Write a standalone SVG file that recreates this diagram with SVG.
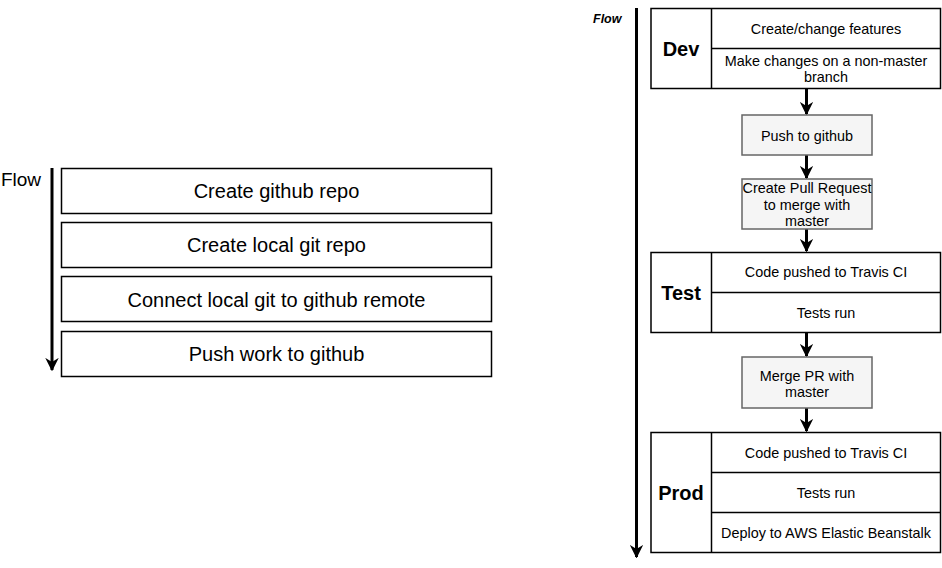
<svg xmlns="http://www.w3.org/2000/svg" width="942" height="568" viewBox="0 0 942 568">
<defs>
<style>
.box{fill:#fff;stroke:#000;stroke-width:1.5}
.gbox{fill:#f5f5f5;stroke:#666;stroke-width:1.5}
.t{font-family:"Liberation Sans",Arial,sans-serif;fill:#000;text-anchor:middle}
.big{font-size:20px}
.sm{font-size:14.4px}
.hd{font-size:20px;font-weight:bold}
.ln{stroke:#000;stroke-width:3;fill:none}
</style>
<marker id="ah" viewBox="0 0 10 10" refX="9" refY="5" markerWidth="4.5" markerHeight="4.5" orient="auto" markerUnits="strokeWidth">
<path d="M0,0 L10,5 L0,10 L3,5 Z" fill="#000"/>
</marker>
</defs>
<rect width="942" height="568" fill="#fff"/>
<g id="connectors">
<line class="ln" x1="52" y1="168" x2="52" y2="370" marker-end="url(#ah)"/>
<line class="ln" x1="636.5" y1="8" x2="636.5" y2="557" marker-end="url(#ah)"/>
<line class="ln" x1="806.5" y1="89" x2="806.5" y2="114" marker-end="url(#ah)"/>
<line class="ln" x1="806.5" y1="155" x2="806.5" y2="178" marker-end="url(#ah)"/>
<line class="ln" x1="806.5" y1="229" x2="806.5" y2="251" marker-end="url(#ah)"/>
<line class="ln" x1="806.5" y1="332" x2="806.5" y2="356" marker-end="url(#ah)"/>
<line class="ln" x1="806.5" y1="408" x2="806.5" y2="431" marker-end="url(#ah)"/>
</g>
<text class="t" x="21" y="186" style="font-size:19px">Flow</text>
<text x="593" y="23" style="font-family:'Liberation Sans',Arial,sans-serif;font-size:12.5px;font-weight:bold;font-style:italic">Flow</text>
<g id="left1"><rect class="box" x="61.5" y="168.5" width="430" height="45"/><text class="t big" x="276.5" y="198">Create github repo</text></g>
<g id="left2"><rect class="box" x="61.5" y="222.5" width="430" height="45"/><text class="t big" x="276.5" y="252">Create local git repo</text></g>
<g id="left3"><rect class="box" x="61.5" y="276.5" width="430" height="45"/><text class="t big" x="276.5" y="307">Connect local git to github remote</text></g>
<g id="left4"><rect class="box" x="61.5" y="331.5" width="430" height="45"/><text class="t big" x="276.5" y="361">Push work to github</text></g>
<g id="dev">
<rect class="box" x="651" y="8.5" width="289.5" height="80"/>
<line stroke="#000" stroke-width="1.5" x1="711.5" y1="8.5" x2="711.5" y2="88.5"/>
<line stroke="#000" stroke-width="1.5" x1="711.5" y1="48.5" x2="940.5" y2="48.5"/>
<text class="t hd" x="681" y="56">Dev</text>
<text class="t sm" x="826" y="34">Create/change features</text>
<text class="t sm" x="826" y="66">Make changes on a non-master</text>
<text class="t sm" x="826" y="82">branch</text>
</g>
<g id="push"><rect class="gbox" x="742" y="115" width="130" height="40"/><text class="t sm" x="807" y="141">Push to github</text></g>
<g id="pr"><rect class="gbox" x="742" y="179" width="130" height="50"/>
<text class="t sm" x="807" y="193">Create Pull Request</text>
<text class="t sm" x="807" y="210">to merge with</text>
<text class="t sm" x="807" y="226">master</text></g>
<g id="test">
<rect class="box" x="651" y="252.5" width="289.5" height="80"/>
<line stroke="#000" stroke-width="1.5" x1="711.5" y1="252.5" x2="711.5" y2="332.5"/>
<line stroke="#000" stroke-width="1.5" x1="711.5" y1="292.5" x2="940.5" y2="292.5"/>
<text class="t hd" x="681" y="300">Test</text>
<text class="t sm" x="826" y="277">Code pushed to Travis CI</text>
<text class="t sm" x="826" y="318">Tests run</text>
</g>
<g id="merge"><rect class="gbox" x="742" y="357" width="130" height="51"/>
<text class="t sm" x="807" y="381">Merge PR with</text>
<text class="t sm" x="807" y="397">master</text></g>
<g id="prod">
<rect class="box" x="651" y="432.5" width="289.5" height="120"/>
<line stroke="#000" stroke-width="1.5" x1="711.5" y1="432.5" x2="711.5" y2="552.5"/>
<line stroke="#000" stroke-width="1.5" x1="711.5" y1="472.5" x2="940.5" y2="472.5"/>
<line stroke="#000" stroke-width="1.5" x1="711.5" y1="512.5" x2="940.5" y2="512.5"/>
<text class="t hd" x="681" y="500">Prod</text>
<text class="t sm" x="826" y="458">Code pushed to Travis CI</text>
<text class="t sm" x="826" y="498">Tests run</text>
<text class="t sm" x="826" y="538">Deploy to AWS Elastic Beanstalk</text>
</g>
</svg>
